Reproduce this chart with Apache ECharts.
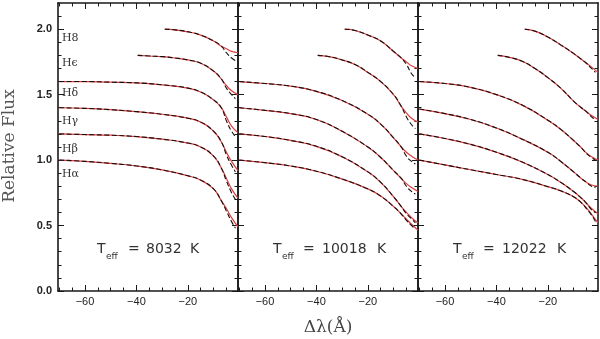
<!DOCTYPE html>
<html>
<head>
<meta charset="utf-8">
<script src="https://cdn.jsdelivr.net/npm/echarts@6.0.0/dist/echarts.min.js"></script>
</head>
<body style="margin:0;background:#fff">
<div id="chart" style="width:600px;height:339px;"></div>
<script>
// temperatures of the three panels
var temps = ['8032', '10018', '12022'];
var lineNames = ['H\u03b1', 'H\u03b2', 'H\u03b3', 'H\u03b4', 'H\u03f5', 'H8'];

// wavelength grids (Angstrom from line centre)
var lamWide = [-70, -60, -50, -40, -30, -20, -15, -10, -7, -5, -3, -0.5];
var lamEps = [-39.5, -35, -30, -25, -20, -15, -10, -7, -5, -3, -0.5];
var lamH8 = [-29, -25, -20, -15, -10, -7, -5, -3, -0.5];
var lamTail = [-5, -3, -1.5];

// observed profiles (red), rows: Ha, Hb, Hg, Hd, He, H8
var obs8032 = [
  [1.00, 0.99, 0.975, 0.955, 0.925, 0.88, 0.847, 0.78, 0.69, 0.63, 0.56, 0.49],
  [1.20, 1.195, 1.19, 1.18, 1.16, 1.13, 1.10, 1.03, 0.94, 0.86, 0.78, 0.71],
  [1.40, 1.395, 1.385, 1.37, 1.35, 1.32, 1.29, 1.22, 1.14, 1.06, 0.99, 0.92],
  [1.60, 1.60, 1.595, 1.59, 1.575, 1.55, 1.52, 1.46, 1.40, 1.33, 1.26, 1.21],
  [1.80, 1.795, 1.79, 1.78, 1.765, 1.74, 1.68, 1.62, 1.57, 1.53, 1.50],
  [2.00, 1.995, 1.98, 1.955, 1.91, 1.87, 1.85, 1.83, 1.82]
];
var obs10018 = [
  [1.00, 0.98, 0.955, 0.915, 0.855, 0.78, 0.725, 0.645, 0.588, 0.548, 0.51, 0.465],
  [1.20, 1.18, 1.15, 1.105, 1.025, 0.91, 0.83, 0.72, 0.645, 0.60, 0.56, 0.52],
  [1.40, 1.38, 1.355, 1.31, 1.22, 1.10, 1.02, 0.92, 0.86, 0.82, 0.79, 0.76],
  [1.60, 1.585, 1.565, 1.525, 1.455, 1.35, 1.275, 1.17, 1.10, 1.06, 1.03, 1.00],
  [1.80, 1.79, 1.765, 1.73, 1.67, 1.60, 1.50, 1.41, 1.36, 1.32, 1.29],
  [2.00, 1.99, 1.955, 1.91, 1.83, 1.78, 1.75, 1.72, 1.70]
];
var obs12022 = [
  [1.00, 0.963, 0.926, 0.89, 0.853, 0.797, 0.765, 0.72, 0.675, 0.635, 0.585, 0.52],
  [1.20, 1.165, 1.12, 1.06, 0.985, 0.89, 0.83, 0.76, 0.71, 0.67, 0.63, 0.59],
  [1.39, 1.355, 1.31, 1.245, 1.16, 1.06, 0.99, 0.91, 0.86, 0.83, 0.81, 0.80],
  [1.60, 1.585, 1.555, 1.50, 1.42, 1.305, 1.235, 1.15, 1.095, 1.055, 1.025, 1.00],
  [1.80, 1.785, 1.755, 1.70, 1.63, 1.55, 1.45, 1.40, 1.37, 1.34, 1.31],
  [2.00, 1.985, 1.94, 1.88, 1.815, 1.77, 1.74, 1.71, 1.67]
];

// model profiles (black dashed) differ from the observed ones only near the core
var modelTail8032 = [
  [0.61, 0.53, 0.48], [0.84, 0.75, 0.70], [1.04, 0.96, 0.91],
  [1.30, 1.22, 1.18], [1.55, 1.50, 1.47], [1.82, 1.78, 1.76]
];
var modelTail10018 = [
  [0.54, 0.50, 0.47], [0.59, 0.55, 0.52], [0.80, 0.76, 0.74],
  [1.03, 0.99, 0.97], [1.33, 1.27, 1.24], [1.73, 1.66, 1.63]
];
var modelTail12022 = [
  [0.63, 0.58, 0.53], [0.67, 0.62, 0.60], [0.83, 0.80, 0.79],
  [1.05, 1.02, 1.00], [1.37, 1.33, 1.31], [1.74, 1.70, 1.67]
];

var xMajor = [-60, -40, -20];
var xMinor = [-70, -65, -55, -50, -45, -35, -30, -25, -15, -10, -5];
var yMajor = [0, 0.5, 1, 1.5, 2];
var yMinor = [0.1, 0.2, 0.3, 0.4, 0.6, 0.7, 0.8, 0.9, 1.1, 1.2, 1.3, 1.4, 1.6, 1.7, 1.8, 1.9, 2.1];

var obsAll = [obs8032, obs10018, obs12022];
var tailAll = [modelTail8032, modelTail10018, modelTail12022];

function lamFor(j) { return j < 4 ? lamWide : (j === 4 ? lamEps : lamH8); }
function pairs(xs, ys) { return xs.map(function (x, k) { return [x, ys[k]]; }); }

var frame = '#1a1a1a';
var grids = [], xAxes = [], yAxes = [], series = [], graphics = [];

for (var p = 0; p < 3; p++) {
  grids.push({ left: 58 + 180 * p, top: 3, width: 180, height: 288 });

  ['bottom', 'top'].forEach(function (pos) {
    xAxes.push({
      type: 'value', gridIndex: p, position: pos, min: -70.5, max: -0.5,
      axisLine: { show: true, onZero: false, lineStyle: { color: frame, width: 1.6 } },
      axisTick: { inside: true, length: 6, customValues: xMajor, lineStyle: { color: frame, width: 1 } },
      axisLabel: {
        show: pos === 'bottom', customValues: xMajor, margin: 5,
        fontFamily: 'Liberation Sans', fontSize: 11, color: '#222',
        formatter: function (v) { return '\u2212' + Math.abs(v); }
      },
      splitLine: { show: false }
    });
    xAxes.push({
      type: 'value', gridIndex: p, position: pos, min: -70.5, max: -0.5,
      axisLine: { show: false, onZero: false },
      axisTick: { inside: true, length: 3.5, customValues: xMinor, lineStyle: { color: frame, width: 1 } },
      axisLabel: { show: false }, splitLine: { show: false }
    });
  });

  ['left', 'right'].forEach(function (pos) {
    yAxes.push({
      type: 'value', gridIndex: p, position: pos, min: 0, max: 2.2,
      axisLine: { show: true, onZero: false, lineStyle: { color: frame, width: 1.6 } },
      axisTick: { inside: true, length: 6, customValues: yMajor, lineStyle: { color: frame, width: 1 } },
      axisLabel: {
        show: p === 0 && pos === 'left', customValues: yMajor, margin: 6,
        fontFamily: 'Liberation Sans', fontWeight: 'bold', fontSize: 11, color: '#222',
        formatter: function (v) { return v.toFixed(1); }
      },
      splitLine: { show: false }
    });
    yAxes.push({
      type: 'value', gridIndex: p, position: pos, min: 0, max: 2.2,
      axisLine: { show: false, onZero: false },
      axisTick: { inside: true, length: 3.5, customValues: yMinor, lineStyle: { color: frame, width: 1 } },
      axisLabel: { show: false }, splitLine: { show: false }
    });
  });

  for (var j = 0; j < 6; j++) {
    var obsPts = pairs(lamFor(j), obsAll[p][j]);
    var modelPts = obsPts.filter(function (d) { return d[0] < -5; })
      .concat(pairs(lamTail, tailAll[p][j]));
    series.push({
      type: 'line', xAxisIndex: 4 * p, yAxisIndex: 4 * p, data: obsPts,
      smooth: 0.5, symbol: 'none', silent: true, z: 2,
      lineStyle: { color: '#e23a3a', width: 1.2 }
    });
    series.push({
      type: 'line', xAxisIndex: 4 * p, yAxisIndex: 4 * p, data: modelPts,
      smooth: 0.5, symbol: 'none', silent: true, z: 3,
      lineStyle: { color: '#111', width: 1.1, type: [5, 2.5] }
    });
  }
}

// line identifiers in the first panel
var labelY = [176, 151, 123, 95, 65, 40];
lineNames.forEach(function (n, j) {
  graphics.push({ type: 'text', left: 62, top: labelY[j] - 7,
    style: { text: n, font: '11px "DejaVu Serif"', fill: '#333' } });
});

// Teff annotations, pieces placed individually
var tPos = [[97, 106, 128, 146, 190], [273, 282, 303, 322, 377], [453, 462, 483, 502, 557]];
temps.forEach(function (t, p) {
  var q = tPos[p];
  var f = '14px "DejaVu Sans"';
  graphics.push({ type: 'text', x: q[0], y: 242, style: { text: 'T', font: f, fill: '#333' } });
  graphics.push({ type: 'text', x: q[1], y: 252, style: { text: 'eff', font: '9px "DejaVu Sans"', fill: '#333' } });
  graphics.push({ type: 'text', x: q[2], y: 242, style: { text: '=', font: f, fill: '#333' } });
  graphics.push({ type: 'text', x: q[3], y: 242, style: { text: t, font: f, fill: '#333' } });
  graphics.push({ type: 'text', x: q[4], y: 242, style: { text: 'K', font: f, fill: '#333' } });
});

graphics.push({
  type: 'text', x: 10, y: 146, rotation: Math.PI / 2,
  style: { text: 'Relative Flux', font: '17px "DejaVu Serif"', fill: '#555', align: 'center', verticalAlign: 'middle' }
});
graphics.push({
  type: 'text', x: 328, y: 328,
  style: { text: '\u0394\u03bb(\u00c5)', font: '17px "DejaVu Serif"', fill: '#444', align: 'center', verticalAlign: 'middle' }
});

var chart = echarts.init(document.getElementById('chart'));
chart.setOption({
  animation: false,
  backgroundColor: '#fff',
  grid: grids,
  xAxis: xAxes,
  yAxis: yAxes,
  series: series,
  graphic: graphics
});
</script>
</body>
</html>
